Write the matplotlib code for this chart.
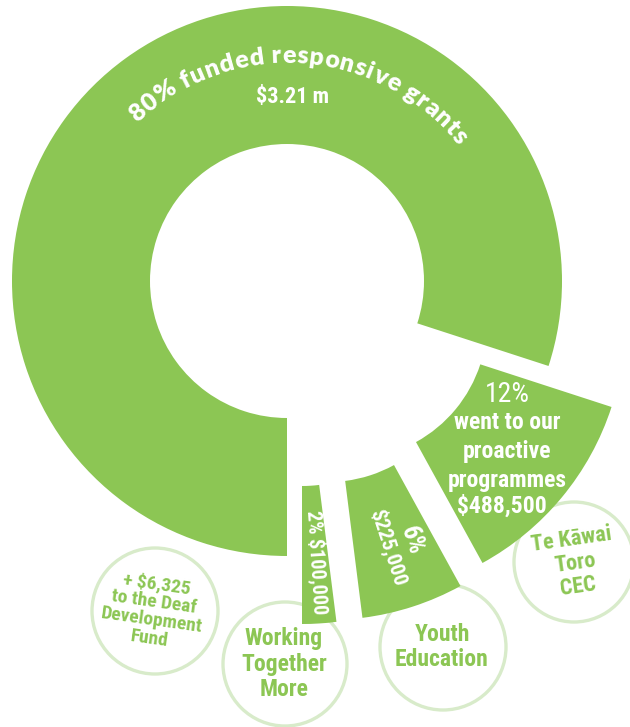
import numpy as np
import matplotlib
matplotlib.use("Agg")
import matplotlib.pyplot as plt
from matplotlib.patches import Wedge, Circle

# data
shares = [80, 12, 6, 2]
amounts = ["$3.21 m", "$488,500", "$225,000", "$100,000"]
main_title = "80% funded responsive grants"
proactive_lines = ["went to our", "proactive", "programmes"]
programmes = ["+ $6,325\nto the Deaf\nDevelopment\nFund",
              "Working\nTogether\nMore",
              "Youth\nEducation",
              "Te Kāwai\nToro\nCEC"]

# layout, in pixels (y grows downwards)
W, H = 630, 727
GREEN = "#8cc654"
RING = "#d8ebca"
center = (287, 281)
r_in, r_out = 137, 275
offsets = [(0, 0), (63, 41), (41, 64), (15, 68)]
circles = [(155, 611, 63), (285, 664, 62), (443, 647, 63), (574, 562, 60)]
# x, y, rotation, fontsize, linespacing
circle_text = [(153, 611, -8, 14, 1.02), (284, 664, 0, 17, 1.12),
               (442, 647, 0, 17, 1.12), (575, 563, 8, 16, 1.1)]

NARROW = ["Roboto Condensed", "Liberation Sans Narrow", "Roboto", "DejaVu Sans"]
WIDE = ["Lato", "Open Sans", "DejaVu Sans"]

fig = plt.figure(figsize=(W / 100, H / 100), dpi=100)
ax = fig.add_axes([0, 0, 1, 1])
ax.set_xlim(0, W)
ax.set_ylim(H, 0)
ax.axis("off")

# circles behind the slices
for (x, y, r) in circles:
    ax.add_patch(Circle((x, y), r, facecolor="none", edgecolor=RING, lw=2.4, zorder=1))

for (x, y, rot, fs, ls), txt in zip(circle_text, programmes):
    ax.text(x, y, txt, color=GREEN, fontsize=fs, family=NARROW, weight="bold",
            ha="center", va="center", multialignment="center", rotation=rot,
            rotation_mode="anchor", linespacing=ls, zorder=3)

# slices: start at the bottom and go clockwise (angles counter-clockwise on screen)
t_end = 270.0
for share, (dx, dy) in zip(shares, offsets):
    sweep = share / 100 * 360
    t_start = t_end - sweep
    c = (center[0] + dx, center[1] + dy)
    # y axis is inverted, so screen angle a is data angle -a
    ax.add_patch(Wedge(c, r_out, -t_end, -t_start, width=r_out - r_in,
                       facecolor=GREEN, edgecolor="none", zorder=2))
    t_end = t_start

# curved title along the big slice
renderer = fig.canvas.get_renderer()
title_fs = 18
title_weight = "heavy"
r_text = 218
mid_angle = 86


def char_width(ch):
    kw = dict(fontsize=title_fs, family=WIDE, weight=title_weight)
    if ch == " ":
        a = ax.text(0, 0, "aa", **kw)
        b = ax.text(0, 0, "a a", **kw)
        w = b.get_window_extent(renderer).width - a.get_window_extent(renderer).width
        a.remove()
        b.remove()
        return w
    t = ax.text(0, 0, ch, **kw)
    w = t.get_window_extent(renderer).width
    t.remove()
    return w


widths = [char_width(ch) for ch in main_title]
spacing = 0.8
total = sum(widths) + spacing * (len(widths) - 1)
theta0 = np.radians(mid_angle) + total / 2 / r_text
pos = 0.0
for ch, w in zip(main_title, widths):
    th = theta0 - (pos + w / 2) / r_text
    x = center[0] + r_text * np.cos(th)
    y = center[1] - r_text * np.sin(th)
    ax.text(x, y, ch, fontsize=title_fs, family=WIDE, weight=title_weight, color="white",
            ha="center", va="baseline", rotation=np.degrees(th) - 90,
            rotation_mode="anchor", zorder=4)
    pos += w + spacing

ax.text(292, 97, amounts[0], fontsize=16, family=NARROW, weight="bold", color="white",
        ha="center", va="center", zorder=4)

# 12% slice
ax.text(507, 402, "12%", fontsize=20, family=NARROW, color="white",
        ha="center", va="baseline", zorder=4)
for i, line in enumerate(proactive_lines):
    ax.text(507, 429 + i * 29, line, fontsize=17, family=NARROW, weight="bold",
            color="white", ha="center", va="baseline", zorder=4)
ax.text(502, 513, amounts[1], fontsize=17, family=NARROW, weight="bold", color="white",
        ha="center", va="baseline", zorder=4)

# 6% slice
ax.text(412, 540, "6%", fontsize=18, family=NARROW, weight="bold", color="white",
        ha="center", va="center", rotation=-72, rotation_mode="anchor", zorder=4)
ax.text(388, 547, amounts[2], fontsize=15, family=NARROW, weight="bold", color="white",
        ha="center", va="center", rotation=-72, rotation_mode="anchor", zorder=4)

# 2% slice
ax.text(316.5, 562, "2% " + amounts[3], fontsize=14.5, family=NARROW, weight="bold",
        color="white", ha="center", va="center", rotation=-86.4,
        rotation_mode="anchor", zorder=4)

fig.savefig("out.png", dpi=100)
